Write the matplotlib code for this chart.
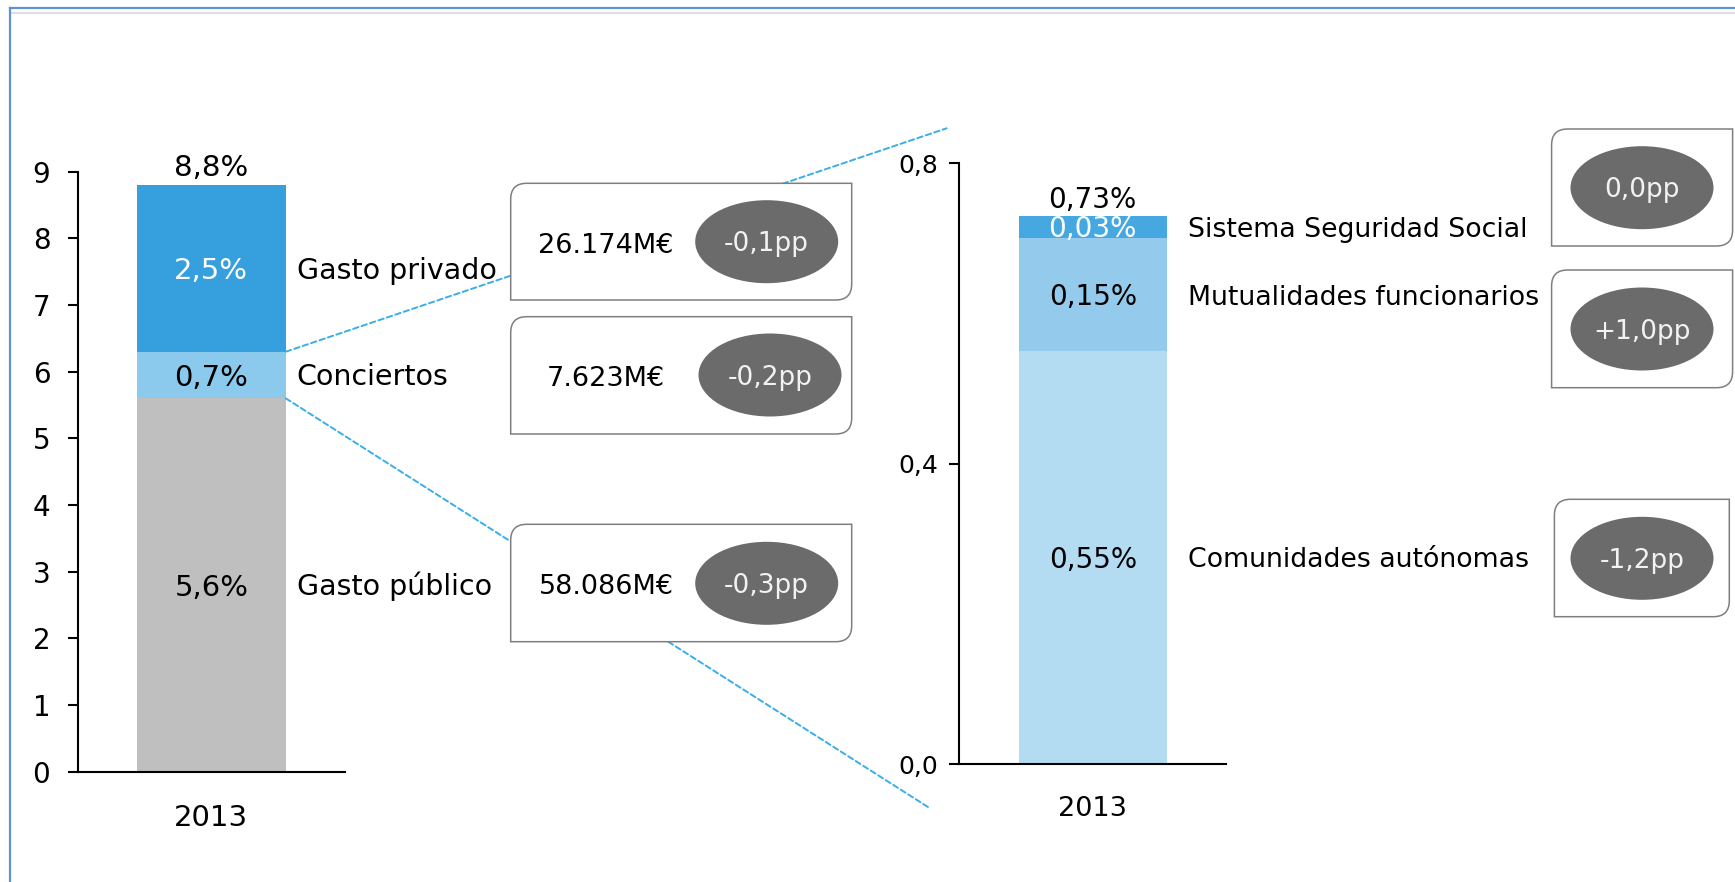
import matplotlib
matplotlib.use('Agg')
import matplotlib.pyplot as plt
from matplotlib.patches import Ellipse, PathPatch, ConnectionPatch
from matplotlib.path import Path
from matplotlib.lines import Line2D
from matplotlib.transforms import Affine2D

plt.rcParams['font.family'] = ['DejaVu Sans']
plt.rcParams['lines.scale_dashes'] = False

# ---------------- data ----------------
year = ['2013']
left_series = ['Gasto público', 'Conciertos', 'Gasto privado']
left_values = [5.6, 0.7, 2.5]
left_total = 8.8
left_amounts = ['58.086M€', '7.623M€', '26.174M€']
left_changes = ['-0,3pp', '-0,2pp', '-0,1pp']
left_ticks = [0, 1, 2, 3, 4, 5, 6, 7, 8, 9]

right_series = ['Comunidades autónomas', 'Mutualidades funcionarios', 'Sistema Seguridad Social']
right_values = [0.55, 0.15, 0.03]
right_total = 0.73
right_changes = ['-1,2pp', '+1,0pp', '0,0pp']
right_ticks = [0.0, 0.4, 0.8]

# ---------------- styles ----------------
left_colors = ['#bfbfbf', '#8ccaed', '#36a0de']
left_text_colors = ['black', 'black', 'white']
right_colors = ['#b3dbf2', '#94cbed', '#46a8e1']
right_text_colors = ['black', 'black', 'white']
ELL_COLOR = '#6b6b6b'
BOX_EDGE = '#7f7f7f'
DASH_COLOR = '#3aaee8'

W, H = 1735, 882
DPI = 100
fig = plt.figure(figsize=(W / DPI, H / DPI), dpi=DPI)
PX = Affine2D().scale(1.0 / W, 1.0 / H) + fig.transFigure  # pixel coords, origin bottom-left


def rect(x0, x1, ytop, ybot):
    return [x0 / W, 1 - ybot / H, (x1 - x0) / W, (ybot - ytop) / H]


def fmt(v, d):
    return f"{v:.{d}f}".replace('.', ',')


def style_axes(ax, lw=1.5):
    for s in ['top', 'right']:
        ax.spines[s].set_visible(False)
    for s in ['left', 'bottom']:
        ax.spines[s].set_linewidth(lw)
        ax.spines[s].set_color('black')


def ctext(ax, x, y, s, fs, color='black', ha='center', dy=0):
    # places text so that the cap-height centre sits at (x, y) + dy points
    ax.annotate(s, xy=(x, y), xytext=(0, dy - 0.3645 * fs), textcoords='offset points',
                ha=ha, va='baseline', fontsize=fs, color=color)


def ftext(x, ytop, s, fs, color='black', ha='center'):
    # figure text in pixel coords (y measured from top), centred on cap height
    yb = ytop + 0.729 * fs * DPI / 72 / 2
    fig.text(x / W, 1 - yb / H, s, fontsize=fs, color=color, ha=ha, va='baseline', zorder=6)


BAR_W = 0.557

# ---------------- left chart ----------------
ax1 = fig.add_axes(rect(77.7, 345, 171.7, 771.7))
ax1.set_xlim(-0.5, 0.5)
ax1.set_ylim(0, 9)
style_axes(ax1)
bottom = 0
for v, c, tc, name in zip(left_values, left_colors, left_text_colors, left_series):
    ax1.bar(0, v, width=BAR_W, bottom=bottom, color=c, linewidth=0)
    ctext(ax1, 0, bottom + v / 2, fmt(v, 1) + '%', 21, color=tc)
    ctext(ax1, 0.319, bottom + v / 2, name, 20.5, ha='left')
    bottom += v
ctext(ax1, 0, left_total, fmt(left_total, 1) + '%', 21, dy=14.5)
ax1.set_yticks(left_ticks)
ax1.set_yticklabels([str(t) for t in left_ticks])
ax1.tick_params(axis='y', direction='out', length=7.2, width=1.5, pad=12.5, labelsize=20)
ax1.set_xticks([0])
ax1.set_xticklabels(year)
ax1.tick_params(axis='x', length=0, pad=23, labelsize=21)
left_bar_right = BAR_W / 2

# ---------------- right chart ----------------
ax2 = fig.add_axes(rect(959.4, 1226, 163.3, 764.3))
ax2.set_xlim(-0.5, 0.5)
ax2.set_ylim(0, 0.8)
style_axes(ax2)
bottom = 0
for v, c, tc, name in zip(right_values, right_colors, right_text_colors, right_series):
    ax2.bar(0, v, width=0.556, bottom=bottom, color=c, linewidth=0)
    ctext(ax2, 0, bottom + v / 2, fmt(v, 2) + '%', 20, color=tc)
    ctext(ax2, 0.359, bottom + v / 2, name, 19.3, ha='left')
    bottom += v
ctext(ax2, 0, right_total, fmt(right_total, 2) + '%', 20, dy=13)
ax2.set_yticks(right_ticks)
ax2.set_yticklabels([fmt(t, 1) for t in right_ticks])
ax2.tick_params(axis='y', direction='out', length=7.2, width=1.5, pad=8, labelsize=18)
ax2.set_xticks([0])
ax2.set_xticklabels(year)
ax2.tick_params(axis='x', length=0, pad=23, labelsize=19.5)

# ---------------- dashed connector lines ----------------
split_hi = left_values[0] + left_values[1]
split_lo = left_values[0]
for yv, end in [(split_hi, (946.6, H - 128.3)), (split_lo, (930.0, H - 808.3))]:
    cp = ConnectionPatch(xyA=(left_bar_right, yv), coordsA=ax1.transData,
                         xyB=end, coordsB=PX, color=DASH_COLOR, lw=1.4,
                         linestyle=(0, (4.0, 2.4)), zorder=1)
    fig.add_artist(cp)


# ---------------- boxes ----------------
def box(x0, x1, ytop, ybot, r=16):
    top, bot = H - ytop, H - ybot
    verts = [(x0 + r, top), (x1, top), (x1, bot + r), (x1, bot), (x1 - r, bot),
             (x0, bot), (x0, top - r), (x0, top), (x0 + r, top), (x0 + r, top)]
    codes = [Path.MOVETO, Path.LINETO, Path.LINETO, Path.CURVE3, Path.CURVE3,
             Path.LINETO, Path.LINETO, Path.CURVE3, Path.CURVE3, Path.CLOSEPOLY]
    p = PathPatch(Path(verts, codes), transform=PX, facecolor='white',
                  edgecolor=BOX_EDGE, lw=1.1, zorder=3)
    fig.add_artist(p)


def ellipse(cx, cy, s, w=143, h=83):
    e = Ellipse((cx, H - cy), w, h, transform=PX, facecolor=ELL_COLOR,
                edgecolor='none', zorder=4)
    fig.add_artist(e)
    ftext(cx, cy, s, 19, color='#f2f2f2')


# middle boxes (order: público, conciertos, privado)
mid_boxes = [(510.7, 851.7, 524.3, 641.7, 766.7, 583.3),
             (510.7, 851.7, 316.7, 434.0, 770.0, 375.0),
             (510.7, 851.7, 183.3, 300.0, 766.7, 241.7)]
for (x0, x1, yt, yb, ex, ey), amt, chg in zip(mid_boxes, left_amounts, left_changes):
    box(x0, x1, yt, yb)
    ellipse(ex, ey, chg)
    ftext(606, ey + 1, amt, 19.5)

# right boxes (order: CCAA, mutualidades, seguridad social)
right_boxes = [(1554.4, 1729.3, 499.3, 616.7, 1642, 558.3),
               (1551.6, 1732.6, 270.0, 387.7, 1642, 329.0),
               (1551.6, 1732.6, 129.0, 246.0, 1642, 187.7)]
for (x0, x1, yt, yb, ex, ey), chg in zip(right_boxes, right_changes):
    box(x0, x1, yt, yb)
    ellipse(ex, ey, chg)

# ---------------- frame ----------------
fig.add_artist(Line2D([11, W], [H - 12.7, H - 12.7], transform=PX, color='#dedede', lw=1.5))
fig.add_artist(Line2D([9.5, W], [H - 8.3, H - 8.3], transform=PX, color='#5f92d2', lw=1.6))
fig.add_artist(Line2D([9.5, 9.5], [0, H - 8.3], transform=PX, color='#5f92d2', lw=1.6))

fig.savefig('out.png', dpi=DPI)
